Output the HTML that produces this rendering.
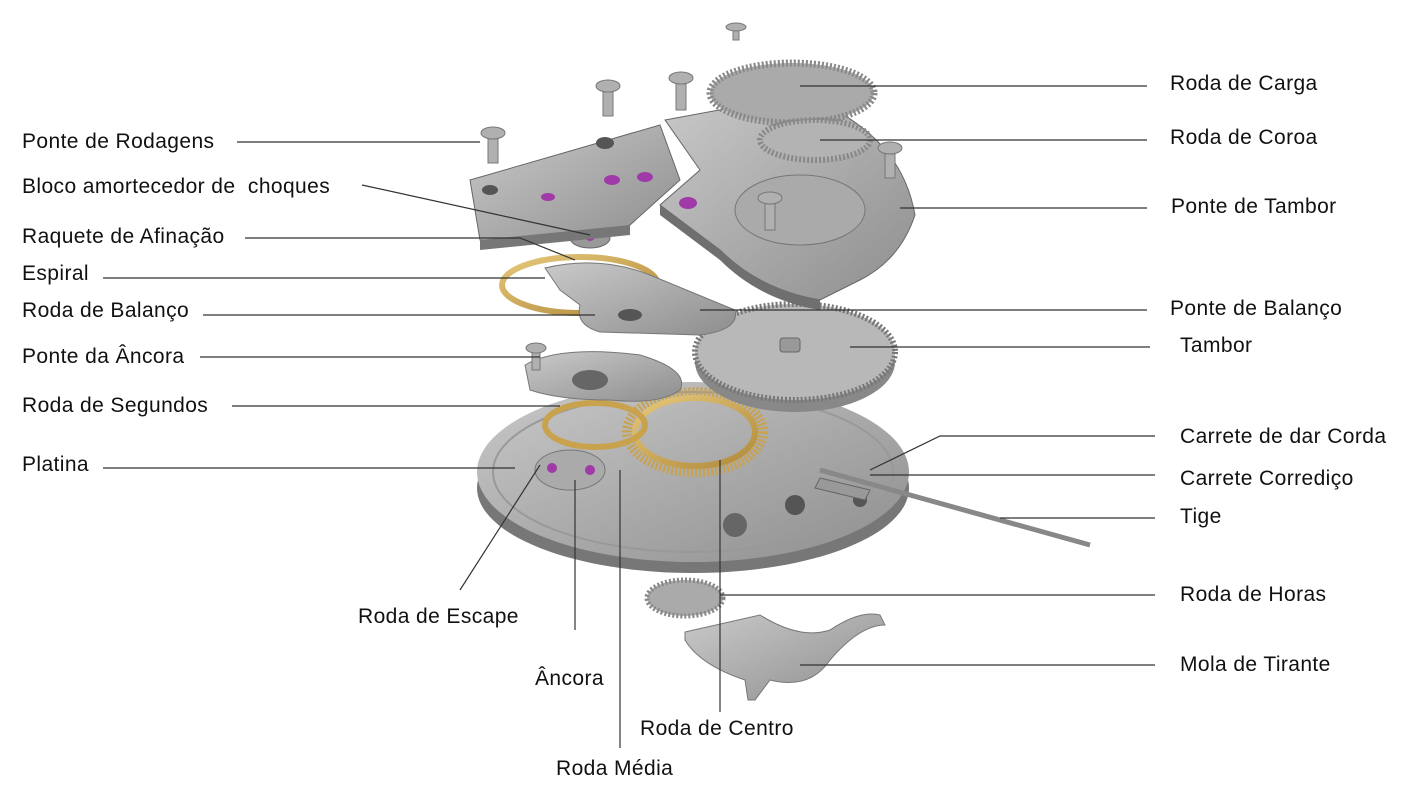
<!DOCTYPE html>
<html><head><meta charset="utf-8"><style>
html,body{margin:0;padding:0;background:#fff;}
svg{display:block;}
text{font-family:"Liberation Sans",sans-serif;font-size:21px;letter-spacing:0.4px;fill:#111;white-space:pre;}
.l{stroke:#333;stroke-width:1.2;fill:none;}
</style></head><body>
<svg width="1409" height="791" viewBox="0 0 1409 791" xmlns="http://www.w3.org/2000/svg">
<defs>
<linearGradient id="m" x1="0" y1="0" x2="1" y2="1"><stop offset="0" stop-color="#c9c9c9"/><stop offset="1" stop-color="#8e8e8e"/></linearGradient>
<linearGradient id="g" x1="0" y1="0" x2="1" y2="1"><stop offset="0" stop-color="#e6c77a"/><stop offset="1" stop-color="#b08a3a"/></linearGradient>
</defs>
<!-- main plate -->
<ellipse cx="693" cy="488" rx="216" ry="85" fill="#777"/>
<ellipse cx="693" cy="472" rx="216" ry="90" fill="url(#m)"/>
<ellipse cx="693" cy="472" rx="200" ry="80" fill="none" stroke="#999" stroke-width="2"/>
<circle cx="795" cy="505" r="10" fill="#555"/><circle cx="735" cy="525" r="12" fill="#666"/><circle cx="860" cy="500" r="7" fill="#555"/>
<!-- gold wheels -->
<ellipse cx="695" cy="432" rx="68" ry="40" fill="none" stroke="#c9a24e" stroke-width="10" stroke-dasharray="2 2"/>
<ellipse cx="695" cy="432" rx="60" ry="34" fill="none" stroke="url(#g)" stroke-width="6"/>
<ellipse cx="595" cy="425" rx="50" ry="22" fill="none" stroke="#c9a24e" stroke-width="6"/>
<!-- escape area -->
<ellipse cx="570" cy="470" rx="35" ry="20" fill="#aaa" stroke="#777"/>
<circle cx="552" cy="468" r="5" fill="#a03aa8"/><circle cx="590" cy="470" r="5" fill="#a03aa8"/>
<!-- ponte ancora -->
<path d="M525 365 Q560 345 640 355 Q690 370 680 390 Q660 405 610 400 Q560 400 530 390Z" fill="url(#m)" stroke="#777"/>
<ellipse cx="590" cy="380" rx="18" ry="10" fill="#666"/>
<!-- tambor -->
<ellipse cx="795" cy="362" rx="100" ry="50" fill="#888"/>
<ellipse cx="795" cy="352" rx="100" ry="48" fill="#b8b8b8" stroke="#777" stroke-width="6" stroke-dasharray="2 2"/>
<rect x="780" y="338" width="20" height="14" rx="3" fill="#999" stroke="#666"/>
<!-- balance wheel -->
<ellipse cx="580" cy="285" rx="78" ry="28" fill="none" stroke="url(#g)" stroke-width="6"/>
<!-- ponte balanco -->
<path d="M545 268 Q600 255 650 275 L735 310 Q740 330 700 335 L600 332 Q575 325 580 305 L560 290Z" fill="url(#m)" stroke="#777"/>
<ellipse cx="630" cy="315" rx="12" ry="6" fill="#555"/>
<ellipse cx="590" cy="238" rx="20" ry="10" fill="#999" stroke="#666"/><circle cx="590" cy="236" r="5" fill="#a03aa8"/>
<!-- ponte de rodagens -->
<path d="M470 180 L660 125 L680 180 L630 225 Q560 250 480 240Z" fill="url(#m)" stroke="#666"/>
<path d="M480 240 L630 225 L630 235 L480 250Z" fill="#777"/>
<ellipse cx="605" cy="143" rx="9" ry="6" fill="#555"/><ellipse cx="490" cy="190" rx="8" ry="5" fill="#555"/>
<ellipse cx="612" cy="180" rx="8" ry="5" fill="#a03aa8"/><ellipse cx="645" cy="177" rx="8" ry="5" fill="#a03aa8"/><ellipse cx="548" cy="197" rx="7" ry="4" fill="#a03aa8"/>
<!-- ponte tambor -->
<path d="M665 120 L800 95 Q900 130 915 215 Q900 260 860 280 L820 300 Q760 290 720 250 L660 205 L700 170Z" fill="url(#m)" stroke="#666"/>
<path d="M660 205 L720 250 Q760 290 820 300 L820 310 Q760 300 720 260 L660 215Z" fill="#6f6f6f"/>
<ellipse cx="800" cy="210" rx="65" ry="35" fill="#aaa" stroke="#777"/>
<ellipse cx="688" cy="203" rx="9" ry="6" fill="#a03aa8"/>
<!-- gears top -->
<ellipse cx="792" cy="93" rx="82" ry="30" fill="#aaa" stroke="#888" stroke-width="7" stroke-dasharray="2 2"/>
<ellipse cx="815" cy="140" rx="55" ry="20" fill="#b3b3b3" stroke="#888" stroke-width="6" stroke-dasharray="2 2"/>
<!-- screws -->
<g fill="#b0b0b0" stroke="#777">
<rect x="603" y="88" width="10" height="28"/><ellipse cx="608" cy="86" rx="12" ry="6"/>
<rect x="676" y="80" width="10" height="30"/><ellipse cx="681" cy="78" rx="12" ry="6"/>
<rect x="488" y="135" width="10" height="28"/><ellipse cx="493" cy="133" rx="12" ry="6"/>
<rect x="885" y="150" width="10" height="28"/><ellipse cx="890" cy="148" rx="12" ry="6"/>
<rect x="765" y="200" width="10" height="30"/><ellipse cx="770" cy="198" rx="12" ry="6"/>
<rect x="733" y="28" width="6" height="12"/><ellipse cx="736" cy="27" rx="10" ry="4"/>
<rect x="532" y="350" width="8" height="20"/><ellipse cx="536" cy="348" rx="10" ry="5"/>
</g>
<!-- tige -->
<path d="M820 470 L1090 545" stroke="#888" stroke-width="5"/>
<path d="M820 478 L870 490 L865 500 L815 488Z" fill="#999" stroke="#666"/>
<!-- roda de horas -->
<ellipse cx="685" cy="598" rx="38" ry="18" fill="#aaa" stroke="#888" stroke-width="5" stroke-dasharray="2 2"/>
<!-- mola tirante -->
<path d="M685 632 L760 615 Q800 640 830 630 Q860 610 880 615 L885 625 Q860 625 830 660 Q810 690 770 680 L755 700 L748 700 L745 680 Q700 665 685 640Z" fill="url(#m)" stroke="#777"/>
<!-- leader lines -->
<g class="l">
<path d="M237 142H480"/><path d="M362 185L590 235"/><path d="M245 238H520L575 260"/>
<path d="M103 278H545"/><path d="M203 315H595"/><path d="M200 357H540"/>
<path d="M232 406H560"/><path d="M103 468H515"/>
<path d="M460 590L540 465"/><path d="M575 630V480"/><path d="M720 712V460"/><path d="M620 748V470"/>
<path d="M800 86H1147"/><path d="M820 140H1147"/><path d="M900 208H1147"/><path d="M700 310H1147"/>
<path d="M850 347H1150"/><path d="M1155 436H940L870 470"/><path d="M870 475H1155"/>
<path d="M1000 518H1155"/><path d="M720 595H1155"/><path d="M800 665H1155"/>
</g>
<text x="22" y="148">Ponte de Rodagens</text>
<text x="22" y="193">Bloco amortecedor de  choques</text>
<text x="22" y="243">Raquete de Afinação</text>
<text x="22" y="280">Espiral</text>
<text x="22" y="317">Roda de Balanço</text>
<text x="22" y="363">Ponte da Âncora</text>
<text x="22" y="412">Roda de Segundos</text>
<text x="22" y="471">Platina</text>
<text x="358" y="623">Roda de Escape</text>
<text x="535" y="685">Âncora</text>
<text x="640" y="735">Roda de Centro</text>
<text x="556" y="775">Roda Média</text>
<text x="1170" y="90">Roda de Carga</text>
<text x="1170" y="144">Roda de Coroa</text>
<text x="1171" y="213">Ponte de Tambor</text>
<text x="1170" y="315">Ponte de Balanço</text>
<text x="1180" y="352">Tambor</text>
<text x="1180" y="443">Carrete de dar Corda</text>
<text x="1180" y="485">Carrete Corrediço</text>
<text x="1180" y="523">Tige</text>
<text x="1180" y="601">Roda de Horas</text>
<text x="1180" y="671">Mola de Tirante</text>
</svg>
</body></html>
